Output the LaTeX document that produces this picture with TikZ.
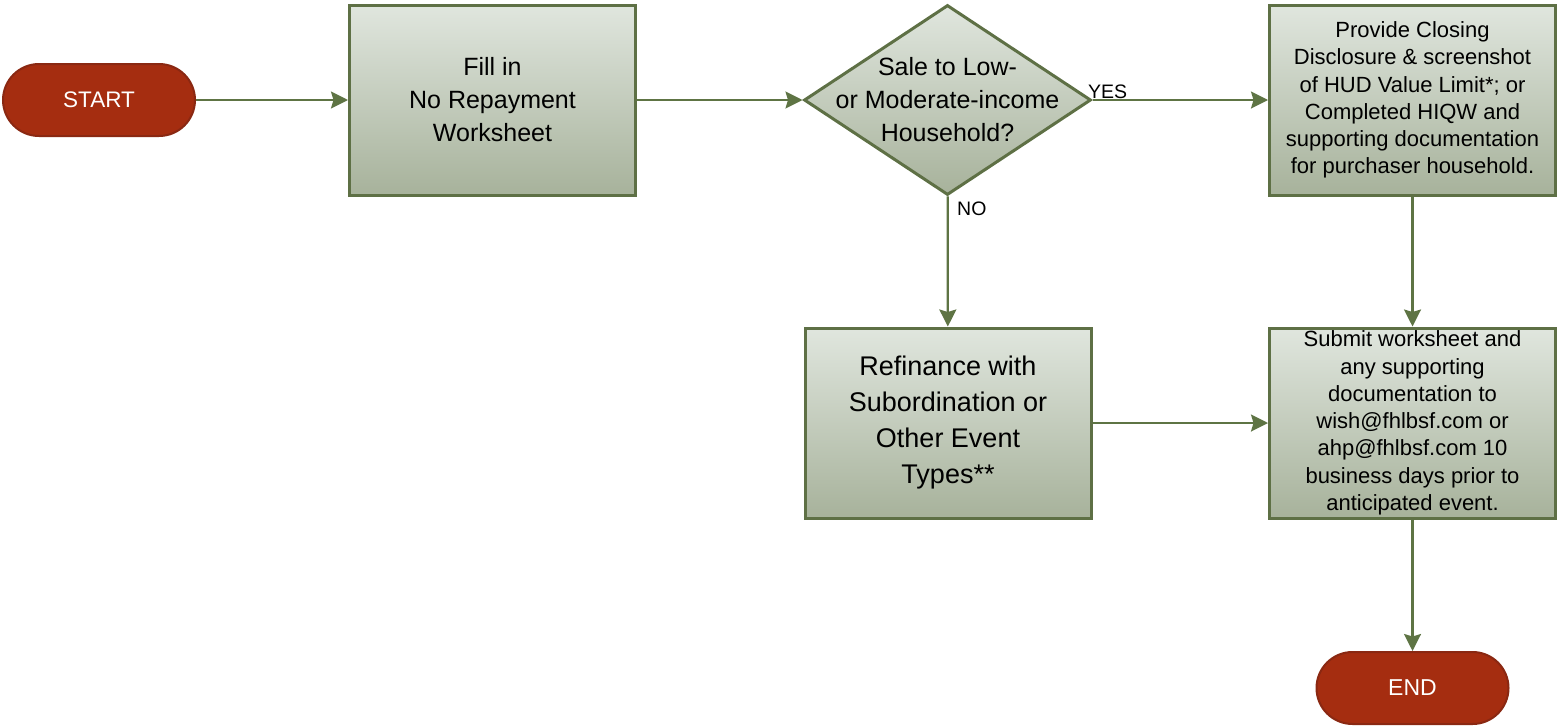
\documentclass[tikz,border=0pt]{standalone}
\usepackage{fontspec}
\setmainfont{Liberation Sans}
\usetikzlibrary{shapes.geometric,arrows.meta}
\definecolor{boxtop}{HTML}{E0E6DE}
\definecolor{boxbot}{HTML}{A7B29B}
\definecolor{boxline}{HTML}{5E7045}
\definecolor{conn}{HTML}{5E7444}
\definecolor{pillfill}{HTML}{A52D10}
\definecolor{pillline}{HTML}{8A2812}
\tikzset{
  procbox/.style={rectangle, draw=boxline, line width=3pt, top color=boxtop, bottom color=boxbot,
    minimum width=286pt, minimum height=190pt, inner sep=0pt, align=center, text=black},
  decbox/.style={diamond, draw=boxline, line width=3pt, top color=boxtop, bottom color=boxbot,
    minimum width=287pt, minimum height=190pt, inner sep=0pt, aspect=1.5},
  pill/.style={rectangle, rounded corners=36pt, draw=pillline, line width=2pt, fill=pillfill,
    minimum width=192pt, minimum height=72pt, inner sep=0pt, text=white},
  flow/.style={draw=conn, line width=2.2pt, -{Stealth[length=17pt,width=17pt,inset=2.5pt]}},
  lbl/.style={inner sep=0pt, font=\fontsize{19.5}{22}\selectfont, anchor=base west}
}
\begin{document}
\begin{tikzpicture}[x=1pt,y=-1pt]
\useasboundingbox (0,0) rectangle (1558,726);
\node[pill, font=\fontsize{22.5}{26}\selectfont] (start) at (99,100) {START};
\node[procbox, font=\fontsize{25}{33}\selectfont] (fill) at (492.5,100) {Fill in\\No Repayment\\Worksheet};
\node[decbox, label={[align=center, font=\fontsize{25}{33}\selectfont]center:Sale to Low-\\or Moderate-income\\Household?}] (dec) at (947.5,100) {};
\node[procbox, font=\fontsize{22}{27.2}\selectfont] (prov) at (1412.5,100) {Provide Closing\\Disclosure \& screenshot\\of HUD Value Limit*; or\\Completed HIQW and\\supporting documentation\\for purchaser household.};
\node[procbox, font=\fontsize{27}{36}\selectfont] (refi) at (948,423) {Refinance with\\Subordination or\\Other Event\\Types**};
\node[procbox, font=\fontsize{22}{27.3}\selectfont] (sub) at (1412.5,423) {Submit worksheet and\\any supporting\\documentation to\\wish@fhlbsf.com or\\ahp@fhlbsf.com 10\\business days prior to\\anticipated event.};
\node[pill, font=\fontsize{23}{26}\selectfont] (end) at (1412.5,688) {END};
\draw[flow] (start) -- (fill);
\draw[flow] (fill) -- (dec);
\draw[flow] (dec) -- (prov);
\draw[flow] (dec) -- (refi);
\draw[flow] (prov) -- (sub);
\draw[flow] (refi) -- (sub);
\draw[flow] (sub) -- (end);
\node[lbl] (yes) at (1088,98) {YES};
\node[lbl] (no) at (957,215) {NO};
\end{tikzpicture}
\end{document}
